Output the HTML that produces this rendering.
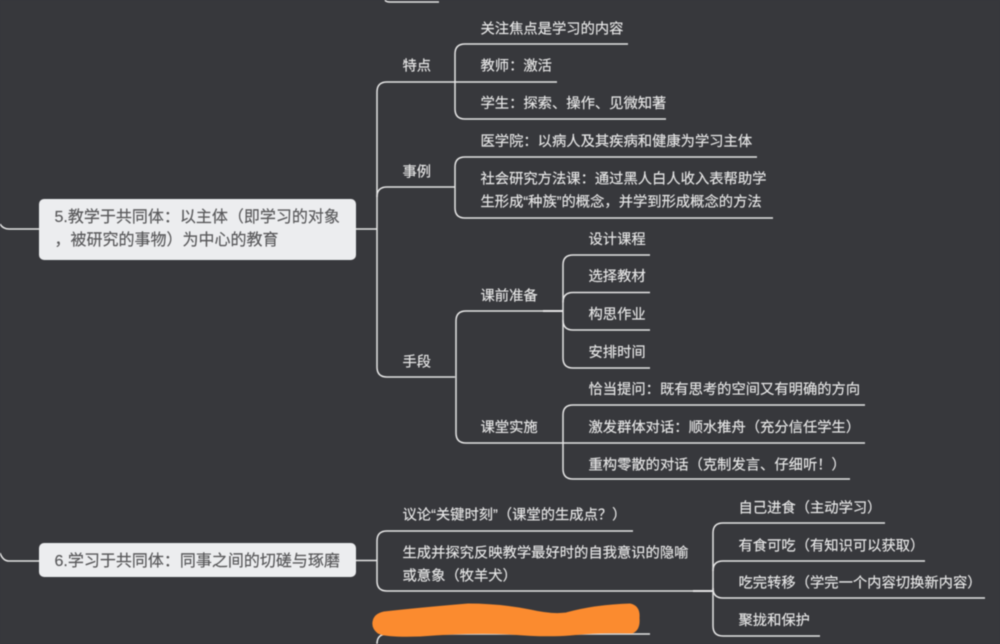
<!DOCTYPE html>
<html lang="zh">
<head>
<meta charset="utf-8">
<title>教学于共同体</title>
<style>
html,body{margin:0;padding:0;background:#37383c;width:1000px;height:644px;overflow:hidden}
svg{display:block;filter:blur(.4px)}
text{font-family:"Liberation Sans","Noto Sans CJK SC",sans-serif;font-size:14.3px;fill:#e6e6e6;stroke:#e6e6e6;stroke-width:.15;text-spacing-trim:space-all}
.n{font-size:16px;fill:#58585a;stroke:#58585a}
path{fill:none;stroke:#e4e4e4;stroke-width:1.5}
</style>
</head>
<body>
<svg width="1000" height="644" viewBox="0 0 1000 644" xmlns="http://www.w3.org/2000/svg">
<rect width="1000" height="644" fill="#37383c"/>
<!-- top stub -->
<path d="M385 0Q386 2 390 2H439"/>
<!-- node 5 connectors -->
<path d="M0 224Q3 229 9 229H39"/>
<path d="M356 229H377"/>
<path d="M455 82H387Q377 82 377 92V367Q377 377 387 377H455"/>
<path d="M455 187H387Q377 187 377 197"/>
<!-- 特点 -->
<path d="M628 44H465Q455 44 455 54V109Q455 119 465 119H666"/>
<path d="M455 82H557"/>
<!-- 事例 -->
<path d="M757 157H465Q455 157 455 167V208Q455 218 465 218H773"/>
<!-- 手段 -->
<path d="M563 311H466Q456 311 456 321V433Q456 443 466 443H563"/>
<path d="M543 311H563" style="stroke-width:2"/>
<!-- 课前准备 -->
<path d="M650 255H573Q563 255 563 265V358Q563 368 573 368H650"/>
<path d="M650 292.500H573Q563 292.500 563 302.500"/>
<path d="M650 330H573Q563 330 563 320"/>
<!-- 课堂实施 -->
<path d="M865 405H573Q563 405 563 415V469Q563 479 573 479H850"/>
<path d="M563 443H865"/>
<!-- node 6 connectors -->
<path d="M0 553Q3 561 9 561H39"/>
<path d="M356 560.500H377"/>
<path d="M633 531H387Q377 531 377 541V581Q377 591 387 591H713"/>
<path d="M693 591H713" style="stroke-width:2"/>
<path d="M885 523H723Q713 523 713 533V626Q713 636 723 636H820"/>
<path d="M925 561H723Q713 561 713 571"/>
<path d="M985 598H723Q713 598 713 588"/>
<!-- bottom -->
<path d="M650 634H387Q377 634 377 644"/>
<!-- nodes -->
<rect x="39" y="199" width="317" height="61" rx="5" fill="#ecedef"/>
<rect x="39" y="543" width="317" height="34" rx="5" fill="#ecedef"/>
<text class="n" x="54.500" y="222">5.教学于共同体：以主体（即学习的对象</text>
<text class="n" x="54.500" y="245">，被研究的事物）为中心的教育</text>
<text class="n" x="54.500" y="566">6.学习于共同体：同事之间的切磋与琢磨</text>
<!-- labels -->
<text x="402.500" y="70.500">特点</text>
<text x="402.500" y="176.500">事例</text>
<text x="402.500" y="366.500">手段</text>
<text x="480.500" y="33.500">关注焦点是学习的内容</text>
<text x="480.500" y="70.500">教师：激活</text>
<text x="480.500" y="108">学生：探索、操作、见微知著</text>
<text x="480.500" y="146">医学院：以病人及其疾病和健康为学习主体</text>
<text x="480.500" y="183.500">社会研究方法课：通过黑人白人收入表帮助学</text>
<text x="480.500" y="206.500">生形成“种族”的概念，并学到形成概念的方法</text>
<text x="480.500" y="300.500">课前准备</text>
<text x="480.500" y="432">课堂实施</text>
<text x="588.500" y="244">设计课程</text>
<text x="588.500" y="281">选择教材</text>
<text x="588.500" y="319">构思作业</text>
<text x="588.500" y="357">安排时间</text>
<text x="588.500" y="394">恰当提问：既有思考的空间又有明确的方向</text>
<text x="588.500" y="432">激发群体对话：顺水推舟（充分信任学生）</text>
<text x="588.500" y="469.500">重构零散的对话（克制发言、仔细听！）</text>
<text x="402.500" y="519.500">议论“关键时刻”（课堂的生成点？）</text>
<text x="402.500" y="557.500">生成并探究反映教学最好时的自我意识的隐喻</text>
<text x="402.500" y="580.500">或意象（牧羊犬）</text>
<text x="738.500" y="512.500">自己进食（主动学习）</text>
<text x="738.500" y="550.500">有食可吃（有知识可以获取）</text>
<text x="738.500" y="587.500">吃完转移（学完一个内容切换新内容）</text>
<text x="738.500" y="625">聚拢和保护</text>
<!-- orange scribble -->
<path d="M373 622Q374 614 384 612Q420 608 468 604Q500 604 530 610Q552 615 566 613Q595 605 630 604Q640 606 639 618Q640 630 632 633Q600 632 570 635Q545 637 510 634Q470 632 420 636Q385 637 378 633Q372 628 373 622Z" style="fill:#fb8b2f;stroke:#fb8b2f;stroke-width:1"/>
</svg>
</body>
</html>
